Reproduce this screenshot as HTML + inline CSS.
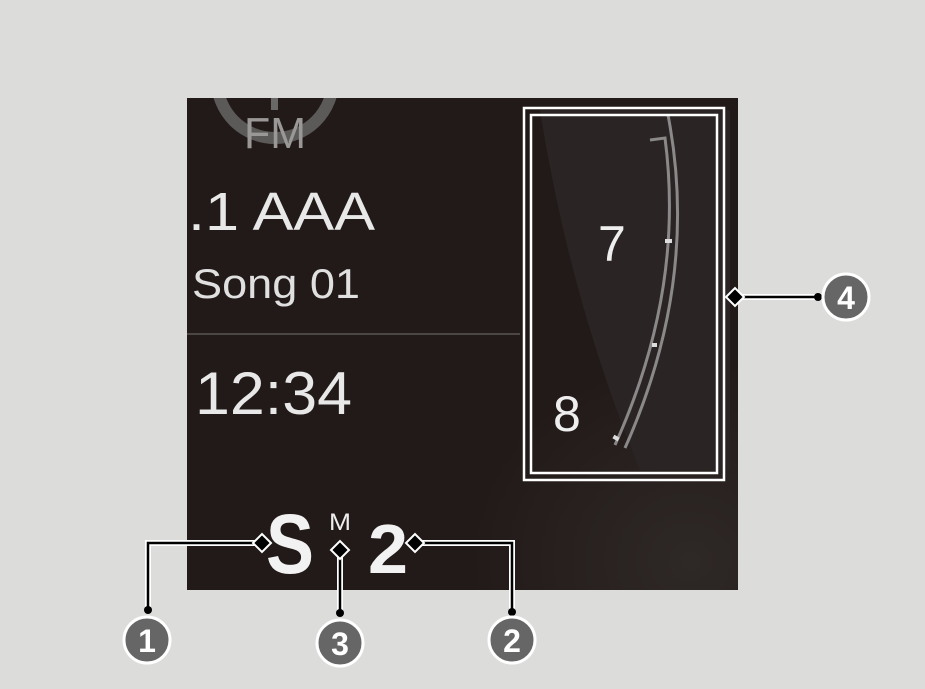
<!DOCTYPE html>
<html><head><style>
html,body{margin:0;padding:0;background:#dcdddb;}
svg{display:block}
text{font-family:"Liberation Sans",sans-serif;}
</style></head><body>
<svg width="925" height="689" viewBox="0 0 925 689" xmlns="http://www.w3.org/2000/svg">
<defs>
<radialGradient id="g1" cx="0.85" cy="0.9" r="0.7">
<stop offset="0" stop-color="#2e2826"/><stop offset="1" stop-color="#221a18"/>
</radialGradient>
<clipPath id="cp"><rect x="187" y="98" width="551" height="492"/></clipPath>
</defs>
<rect width="925" height="689" fill="#dcdddb"/>
<rect x="187" y="98" width="551" height="492" fill="#221a18"/>
<rect x="420" y="300" width="318" height="290" fill="url(#g1)"/>
<g clip-path="url(#cp)">
<path d="M540 110 Q570 300 640 470 L730 470 L730 110 Z" fill="#2a2524"/>
<circle cx="275" cy="80" r="58" fill="none" stroke="#5c5a59" stroke-width="12"/>
<rect x="271" y="90" width="7" height="20" fill="#6a6867"/>
<text x="244" y="148" font-size="44" fill="#9a9897" textLength="62" lengthAdjust="spacingAndGlyphs">FM</text>
<text x="188" y="230" font-size="54" fill="#e8e8e8" textLength="187" lengthAdjust="spacingAndGlyphs">.1  AAA</text>
<text x="192" y="298" font-size="42" fill="#e0e0e0" textLength="168" lengthAdjust="spacingAndGlyphs">Song 01</text>
<line x1="187" y1="334" x2="520" y2="334" stroke="#5a5453" stroke-width="1.5"/>
<text x="195" y="414" font-size="60" fill="#e8e8e8" textLength="157" lengthAdjust="spacingAndGlyphs">12:34</text>
<path d="M668 115 Q700 280 625 448" fill="none" stroke="#8a8888" stroke-width="3"/>
<path d="M650 140 L665 138 Q685 290 615 445" fill="none" stroke="#8a8888" stroke-width="3"/>
<text x="598" y="261" font-size="50" fill="#eee">7</text>
<text x="553" y="431" font-size="50" fill="#eee">8</text>
<rect x="665" y="239" width="7" height="4" fill="#ddd"/>
<rect x="652" y="343" width="5" height="4" fill="#ddd"/>
<rect x="613" y="436" width="6" height="4" fill="#ddd" transform="rotate(30 616 438)"/>
<text x="266" y="573" font-size="84" font-weight="bold" fill="#f2f2f2" textLength="48" lengthAdjust="spacingAndGlyphs">S</text>
<text x="329" y="530" font-size="24" fill="#eee" textLength="22" lengthAdjust="spacingAndGlyphs">M</text>
<text x="368" y="573" font-size="70" font-weight="bold" fill="#f2f2f2" textLength="40" lengthAdjust="spacingAndGlyphs">2</text>
</g>
<rect x="524" y="108" width="200" height="372" fill="none" stroke="#fff" stroke-width="2.5"/>
<rect x="531" y="115" width="186" height="358" fill="none" stroke="#fff" stroke-width="2.5"/>
<g fill="none" stroke="#fff" stroke-width="6">
<path d="M258 543 H148 V610"/><path d="M420 543 H512 V612"/><path d="M340 552 V613"/><path d="M738 297 H818"/>
</g>
<g fill="none" stroke="#000" stroke-width="2.5">
<path d="M258 543 H148 V610"/><path d="M420 543 H512 V612"/><path d="M340 552 V613"/><path d="M738 297 H818"/>
</g>
<g fill="#000" stroke="#fff" stroke-width="2">
<path d="M253 543 L262 534 L271 543 L262 552 Z"/>
<path d="M406 543 L415 534 L424 543 L415 552 Z"/>
<path d="M331 550 L340 541 L349 550 L340 559 Z"/>
<path d="M726 297 L735 288 L744 297 L735 306 Z"/>
</g>
<g fill="#000"><circle cx="148" cy="610" r="4"/><circle cx="512" cy="612" r="4"/><circle cx="340" cy="613" r="4"/><circle cx="818" cy="297" r="4"/></g>
<g fill="#666" stroke="#fff" stroke-width="3">
<circle cx="147" cy="640" r="23"/><circle cx="340" cy="643" r="23"/><circle cx="512" cy="640" r="23"/><circle cx="846" cy="297" r="23"/>
</g>
<g fill="#fff" font-size="32" font-weight="bold" text-anchor="middle">
<text x="147" y="652">1</text><text x="340" y="655">3</text><text x="512" y="652">2</text><text x="846" y="309">4</text>
</g>
</svg>
</body></html>
